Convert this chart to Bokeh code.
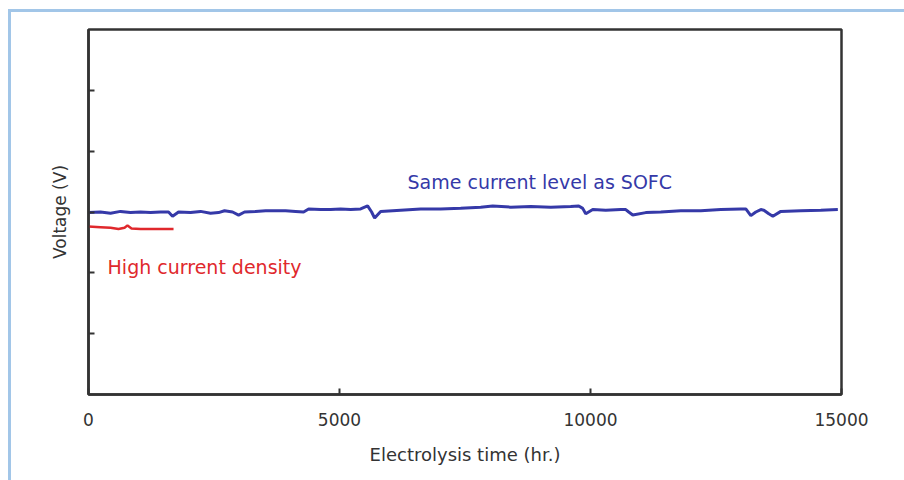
from bokeh.plotting import figure
from bokeh.models import Label, FixedTicker, Range1d
from bokeh.embed import file_html
from bokeh.resources import INLINE

# Data
same_hours = [0, 239, 439, 638, 837, 1036, 1236, 1435, 1594, 1674, 1794, 2033, 2232, 2431, 2591,
              2710, 2870, 2990, 3109, 3328, 3528, 3727, 3926, 4126, 4285, 4385, 4624, 4823, 5022,
              5222, 5421, 5560, 5640, 5700, 5820, 6219, 6617, 7016, 7414, 7813, 8052, 8411, 8809,
              9208, 9606, 9766, 9845, 9905, 10045, 10304, 10603, 10702, 10762, 10842, 11101, 11400,
              11799, 12197, 12596, 12994, 13094, 13194, 13293, 13393, 13453, 13552, 13632, 13791,
              14190, 14588, 14927]
same_volt = [1.199, 1.200, 1.198, 1.201, 1.199, 1.200, 1.199, 1.200, 1.200, 1.193, 1.200, 1.199,
             1.201, 1.198, 1.199, 1.202, 1.200, 1.195, 1.200, 1.201, 1.202, 1.202, 1.202, 1.201,
             1.200, 1.205, 1.204, 1.204, 1.205, 1.204, 1.205, 1.210, 1.200, 1.190, 1.201, 1.203,
             1.205, 1.205, 1.206, 1.208, 1.210, 1.208, 1.209, 1.208, 1.209, 1.210, 1.206, 1.197,
             1.204, 1.203, 1.204, 1.204, 1.200, 1.195, 1.199, 1.200, 1.202, 1.202, 1.204, 1.205,
             1.205, 1.194, 1.200, 1.204, 1.203, 1.197, 1.193, 1.201, 1.202, 1.203, 1.204]

high_hours = [0, 239, 439, 598, 718, 777, 857, 1036, 1335, 1694]
high_volt = [1.176, 1.175, 1.174, 1.172, 1.174, 1.178, 1.173, 1.172, 1.172, 1.172]

x_ticks = [0, 5000, 10000, 15000]
y_ticks = [1.0, 1.1, 1.2, 1.3, 1.4]

FONT = "DejaVu Sans"
AXIS_COL = "#333333"
BLUE = "#3539a8"
RED = "#e0282c"
FRAME = "#a2c6e8"

p = figure(width=904, height=480, output_backend="svg", toolbar_location=None,
           x_range=Range1d(0, 15000), y_range=Range1d(0.9, 1.5),
           min_border_left=88, min_border_right=63, min_border_top=29, min_border_bottom=86)
p.border_fill_color = None
p.background_fill_color = "white"
p.styles = {
    "background-color": "white",
    "background-image": f"linear-gradient({FRAME},{FRAME}), linear-gradient({FRAME},{FRAME})",
    "background-size": "3px 100%, 100% 3px",
    "background-position": "8px 9px, 8px 9px",
    "background-repeat": "no-repeat",
}
p.grid.visible = False
p.outline_line_color = AXIS_COL
p.outline_line_width = 2.5

p.line(same_hours, same_volt, line_color=BLUE, line_width=3)
p.line(high_hours, high_volt, line_color=RED, line_width=2.5)

for ax in (p.xaxis[0], p.yaxis[0]):
    ax.axis_line_color = AXIS_COL
    ax.axis_line_width = 2.5
    ax.major_tick_line_color = AXIS_COL
    ax.major_tick_line_width = 2
    ax.major_tick_in = 6
    ax.major_tick_out = 0
    ax.minor_tick_line_color = None
    ax.axis_label_text_font = FONT
    ax.axis_label_text_font_style = "normal"
    ax.axis_label_text_color = AXIS_COL

p.xaxis.ticker = FixedTicker(ticks=x_ticks)
p.xaxis.major_label_text_font = FONT
p.xaxis.major_label_text_font_size = "17px"
p.xaxis.major_label_text_color = AXIS_COL
p.xaxis.major_label_standoff = 18
p.xaxis.axis_label = "Electrolysis time (hr.)"
p.xaxis.axis_label_text_font_size = "18px"
p.xaxis.axis_label_standoff = 15

p.yaxis.ticker = FixedTicker(ticks=y_ticks)
p.yaxis.major_label_text_font_size = "0px"
p.yaxis.major_label_text_color = None
p.yaxis.major_label_standoff = 0
p.yaxis.axis_label = "Voltage (V)"
p.yaxis.axis_label_text_font_size = "17px"
p.yaxis.axis_label_standoff = 19

p.add_layout(Label(x=8990, y=1.250, text="Same current level as SOFC", text_font=FONT,
                   text_font_size="19px", text_color=BLUE, text_align="center",
                   text_baseline="middle"))
p.add_layout(Label(x=380, y=1.110, text="High current density", text_font=FONT,
                   text_font_size="19px", text_color=RED, text_align="left",
                   text_baseline="middle"))

open("out.html", "w").write(file_html(p, INLINE))
